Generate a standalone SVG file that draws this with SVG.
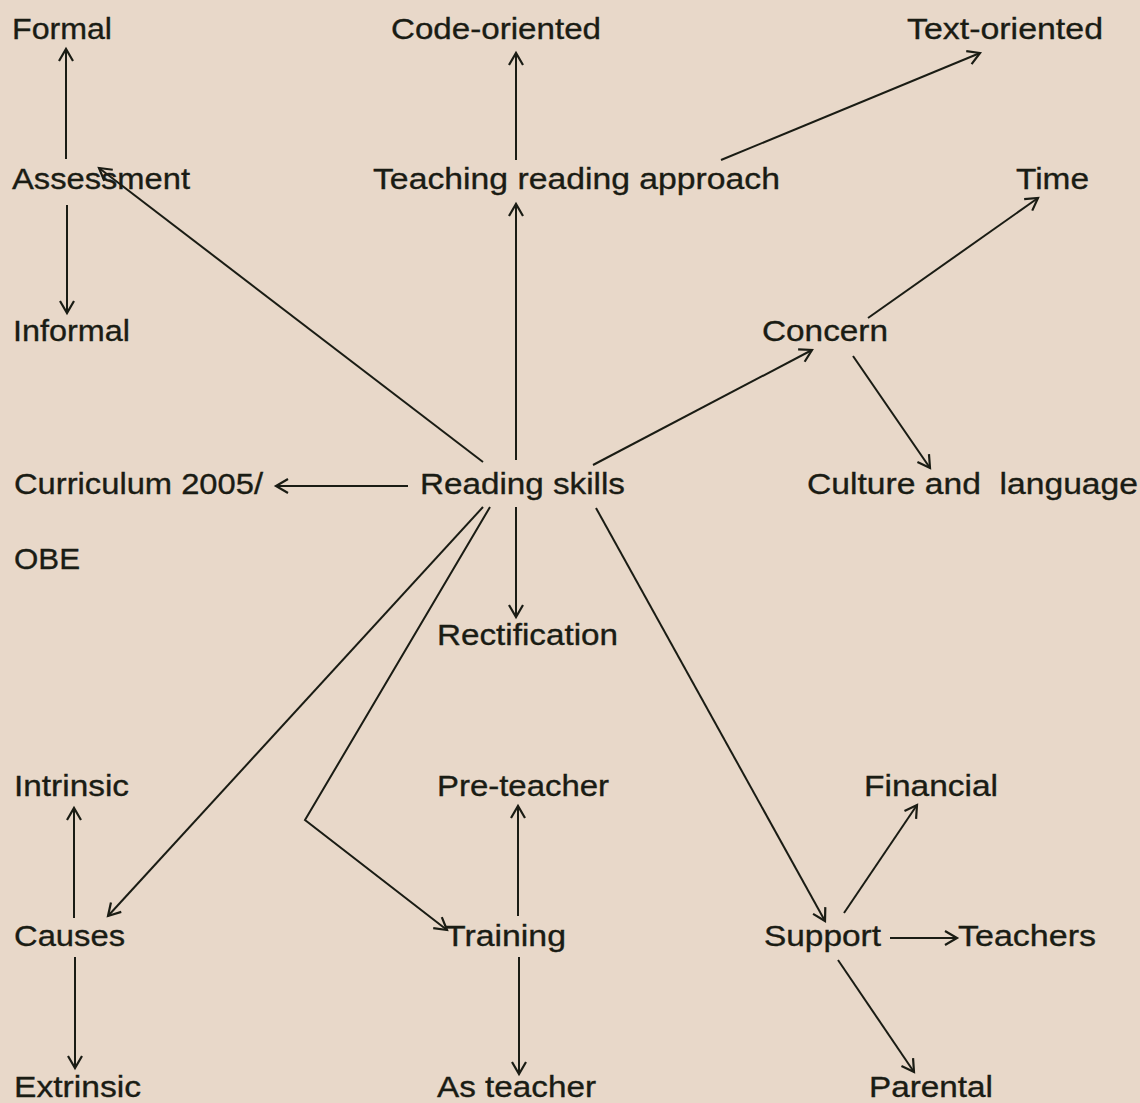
<svg xmlns="http://www.w3.org/2000/svg" width="1140" height="1103" viewBox="0 0 1140 1103">
<style>
text{font-family:"Liberation Sans",Arial,sans-serif;font-size:30px;fill:#1a1c14;stroke:#1a1c14;stroke-width:0.35;white-space:pre}
.c line,.c polyline{stroke:#1a1c14;stroke-width:2;fill:none;marker-end:url(#ah)}
</style>
<defs>
<marker id="ah" markerUnits="userSpaceOnUse" markerWidth="20" markerHeight="20" viewBox="-15 -10 20 20" refX="0" refY="0" orient="auto">
<path d="M-12,-7 L0,0 L-12,7" fill="none" stroke="#1a1c14" stroke-width="2.2"/>
</marker>
</defs>
<rect width="1140" height="1103" fill="#e8d8c9"/>
<g class="c" id="connectors">
<line x1="66" y1="159" x2="66" y2="49"/>
<line x1="67" y1="205" x2="67" y2="313"/>
<line x1="483" y1="462" x2="99" y2="168"/>
<line x1="516" y1="160" x2="516" y2="53"/>
<line x1="516" y1="460" x2="516" y2="204"/>
<line x1="721" y1="160" x2="980" y2="53"/>
<line x1="868" y1="318" x2="1038" y2="198"/>
<line x1="593" y1="465" x2="812" y2="350"/>
<line x1="853" y1="356" x2="930" y2="468"/>
<line x1="408" y1="486" x2="276" y2="486"/>
<line x1="516" y1="507" x2="516" y2="617"/>
<line x1="483" y1="507" x2="108" y2="916"/>
<polyline points="490,507 305,820 447,930"/>
<line x1="596" y1="508" x2="825" y2="921"/>
<line x1="74" y1="918" x2="74" y2="808"/>
<line x1="75" y1="957" x2="75" y2="1068"/>
<line x1="518" y1="916" x2="518" y2="806"/>
<line x1="519" y1="957" x2="519" y2="1074"/>
<line x1="844" y1="913" x2="917" y2="805"/>
<line x1="890" y1="938" x2="957" y2="938"/>
<line x1="838" y1="960" x2="914" y2="1072"/>
</g>
<g id="n-formal"><text x="12" y="39" textLength="100" lengthAdjust="spacingAndGlyphs">Formal</text></g>
<g id="n-code"><text x="391" y="39" textLength="210" lengthAdjust="spacingAndGlyphs">Code-oriented</text></g>
<g id="n-text"><text x="907" y="39" textLength="196" lengthAdjust="spacingAndGlyphs">Text-oriented</text></g>
<g id="n-assessment"><text x="12" y="189" textLength="178" lengthAdjust="spacingAndGlyphs">Assessment</text></g>
<g id="n-teaching"><text x="373" y="189" textLength="407" lengthAdjust="spacingAndGlyphs">Teaching reading approach</text></g>
<g id="n-time"><text x="1016" y="189" textLength="73" lengthAdjust="spacingAndGlyphs">Time</text></g>
<g id="n-informal"><text x="13" y="341" textLength="117" lengthAdjust="spacingAndGlyphs">Informal</text></g>
<g id="n-concern"><text x="762" y="341" textLength="126" lengthAdjust="spacingAndGlyphs">Concern</text></g>
<g id="n-curriculum"><text x="14" y="494" textLength="249" lengthAdjust="spacingAndGlyphs">Curriculum 2005/</text><text x="14" y="569" textLength="66" lengthAdjust="spacingAndGlyphs">OBE</text></g>
<g id="n-reading"><text x="420" y="494" textLength="205" lengthAdjust="spacingAndGlyphs">Reading skills</text></g>
<g id="n-culture"><text x="807" y="494" textLength="331" lengthAdjust="spacingAndGlyphs">Culture and  language</text></g>
<g id="n-rectification"><text x="437" y="645" textLength="181" lengthAdjust="spacingAndGlyphs">Rectification</text></g>
<g id="n-intrinsic"><text x="14" y="796" textLength="115" lengthAdjust="spacingAndGlyphs">Intrinsic</text></g>
<g id="n-preteacher"><text x="437" y="796" textLength="172" lengthAdjust="spacingAndGlyphs">Pre-teacher</text></g>
<g id="n-financial"><text x="864" y="796" textLength="134" lengthAdjust="spacingAndGlyphs">Financial</text></g>
<g id="n-causes"><text x="14" y="946" textLength="111" lengthAdjust="spacingAndGlyphs">Causes</text></g>
<g id="n-training"><text x="445" y="946" textLength="121" lengthAdjust="spacingAndGlyphs">Training</text></g>
<g id="n-support"><text x="764" y="946" textLength="117" lengthAdjust="spacingAndGlyphs">Support</text></g>
<g id="n-teachers"><text x="958" y="946" textLength="138" lengthAdjust="spacingAndGlyphs">Teachers</text></g>
<g id="n-extrinsic"><text x="14" y="1097" textLength="127" lengthAdjust="spacingAndGlyphs">Extrinsic</text></g>
<g id="n-asteacher"><text x="437" y="1097" textLength="159" lengthAdjust="spacingAndGlyphs">As teacher</text></g>
<g id="n-parental"><text x="869" y="1097" textLength="124" lengthAdjust="spacingAndGlyphs">Parental</text></g>
</svg>
